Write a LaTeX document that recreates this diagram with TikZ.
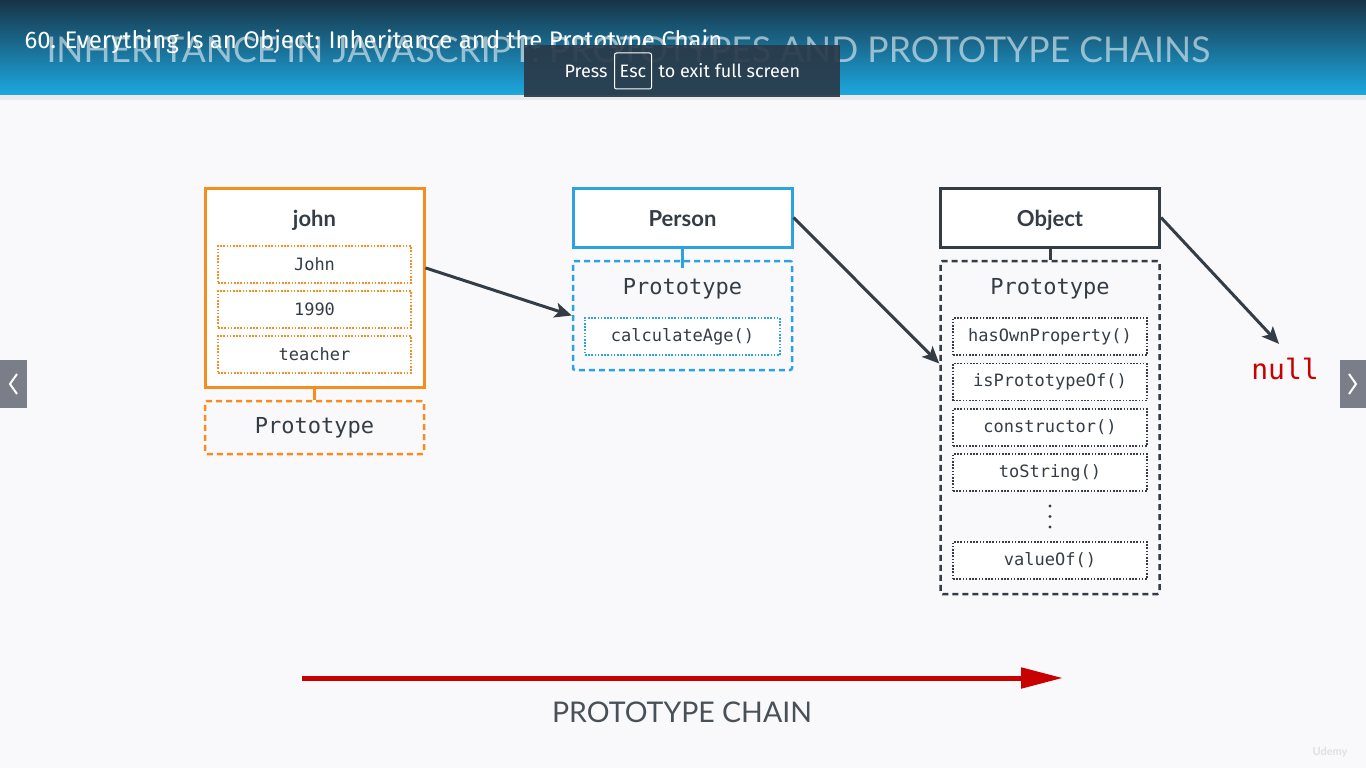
\documentclass[tikz,border=0pt]{standalone}
\usepackage{fontspec}
\setmainfont{Lato}
\setmonofont{DejaVu Sans Mono}
\newfontfamily\hdfont{Fira Sans}
\usetikzlibrary{arrows.meta,positioning}
\definecolor{jorange}{HTML}{F68D1E}
\definecolor{pblue}{HTML}{2BA3E2}
\definecolor{odark}{HTML}{343D46}
\definecolor{chainred}{HTML}{C80000}
\definecolor{bgpaper}{HTML}{F9F8FB}
\definecolor{hdtop}{HTML}{173447}
\definecolor{hdbot}{HTML}{1DA8E0}
\definecolor{navgray}{HTML}{7A7E88}
\definecolor{escgray}{HTML}{2A3A49}
\begin{document}
\begin{tikzpicture}[x=1pt,y=-1pt,
  box/.style={draw=#1, line width=3pt, fill=white, minimum width=219pt, inner sep=0pt},
  proto/.style={draw=#1, line width=2.5pt, dash pattern=on 6pt off 4pt, rounded corners=2pt,
                minimum width=219pt, inner sep=0pt},
  fld/.style={draw=#1, line width=1.6pt, dash pattern=on 1.6pt off 1.6pt, fill=white,
              minimum width=193pt, minimum height=37pt, inner sep=0pt,
              font=\ttfamily\fontsize{17}{20}\selectfont, text=odark},
  ttl/.style={font=\bfseries\fontsize{22}{26}\selectfont, text=odark,
              text height=18.5pt, text depth=1.5pt},
  ptxt/.style={font=\ttfamily\fontsize{22}{26}\selectfont, text=odark},
  link/.style={draw=#1, line width=3pt},
  arr/.style={-{Stealth[length=17pt,width=15pt,inset=4pt]}, line width=3pt, draw=odark}
]
  \useasboundingbox (0,0) rectangle (1366,768);
  \fill[bgpaper] (0,0) rectangle (1366,768);

  % header bar
  \shade[top color=hdtop, bottom color=hdbot] (0,0) rectangle (1366,95);
  \fill[black!8] (0,95) rectangle (1366,100);
  \node[anchor=west, text=white, opacity=0.55, font=\fontsize{35.5}{40}\selectfont] (course)
    at (43,50) {INHERITANCE IN JAVASCRIPT: PROTOTYPES AND PROTOTYPE CHAINS};
  \node[anchor=west, text=white, font=\hdfont\fontsize{24}{28}\selectfont] (lecture)
    at (21,42) {60. Everything Is an Object: Inheritance and the Prototype Chain};
  \fill[escgray, opacity=0.92] (524,45) rectangle (840,97);
  \node[text=white, font=\hdfont\fontsize{18}{21}\selectfont] (press) at (586,71) {Press};
  \node[draw=white, line width=1pt, rounded corners=2pt, minimum width=37pt, minimum height=36pt,
        inner sep=0pt, text=white, font=\hdfont\fontsize{18}{21}\selectfont,
        right=3pt of press] (esc) {Esc};
  \node[text=white, font=\hdfont\fontsize{18}{21}\selectfont, right=3pt of esc] (exitmsg)
    {to exit full screen};

  % side buttons
  \fill[navgray] (0,360) rectangle (27,408);
  \draw[white, line width=2pt] (17,374) -- (10,384) -- (17,394);
  \fill[navgray] (1340,360) rectangle (1366,408);
  \draw[white, line width=2pt] (1349,374) -- (1356,384) -- (1349,394);

  % john
  \node[box=jorange, minimum height=199pt] (john) at (314.5,287.5) {};
  \node[ttl] (jtitle) at (314.5,217.5) {john};
  \node[fld=jorange] (jname) at (314.5,264.5) {John};
  \node[fld=jorange] (jyear) at (314.5,309.5) {1990};
  \node[fld=jorange] (jjob)  at (314.5,354.5) {teacher};
  \node[proto=jorange, minimum height=53pt, ptxt] (jproto) at (314.5,427.5) {Prototype};
  \draw[link=jorange] (john.south) -- (jproto.north);

  % Person
  \node[proto=pblue, minimum height=109pt] (pproto) at (682.5,315.5) {};
  \node[box=pblue, minimum height=59pt, ttl] (person) at (682.5,217.5) {Person};
  \draw[link=pblue] (person.south) -- (pproto.north |- 0,268);
  \node[ptxt] (ptitle) at (682.5,289) {Prototype};
  \node[fld=pblue, minimum width=195pt] (calcage) at (682.5,336.5) {calculateAge()};

  % Object
  \node[proto=odark, minimum height=333pt] (oproto) at (1050,427.5) {};
  \node[box=odark, minimum height=59pt, ttl] (object) at (1050,217.5) {Object};
  \draw[link=odark] (object.south) -- (oproto.north);
  \node[ptxt] (otitle) at (1050,289) {Prototype};
  \node[fld=odark, minimum width=194pt] (hasown)  at (1050,336.5) {hasOwnProperty()};
  \node[fld=odark, minimum width=194pt] (isproto) at (1050,382)   {isPrototypeOf()};
  \node[fld=odark, minimum width=194pt] (ctor)    at (1050,427.5) {constructor()};
  \node[fld=odark, minimum width=194pt] (tostr)   at (1050,472.5) {toString()};
  \fill[odark] (1050,506) circle (1.6pt) (1050,516.5) circle (1.6pt) (1050,527) circle (1.6pt);
  \node[fld=odark, minimum width=194pt] (valof)   at (1050,560.5) {valueOf()};

  \node[text=chainred, font=\ttfamily\fontsize{28}{32}\selectfont, inner sep=2pt] (nul)
    at (1285,369) {null};

  % chain arrows
  \draw[arr] (john.10) -- (pproto.west);
  \draw[arr] (person.east) -- (oproto.150);
  \draw[arr] (object.east) -- ([xshift=-6pt,yshift=12pt]nul.north);

  % prototype chain
  \coordinate (chstart) at (302,678);
  \coordinate (chend) at (1063,678);
  \draw[chainred, line width=5pt, -{Triangle[length=42pt,width=20pt]}] (chstart) -- (chend);
  \node[text=odark!90, font=\fontsize{28.5}{33}\selectfont] (chain) at (682,712) {PROTOTYPE CHAIN};

  \node[text=black!12, font=\bfseries\fontsize{11}{13}\selectfont] (udemy) at (1330,752) {Udemy};
\end{tikzpicture}
\end{document}
